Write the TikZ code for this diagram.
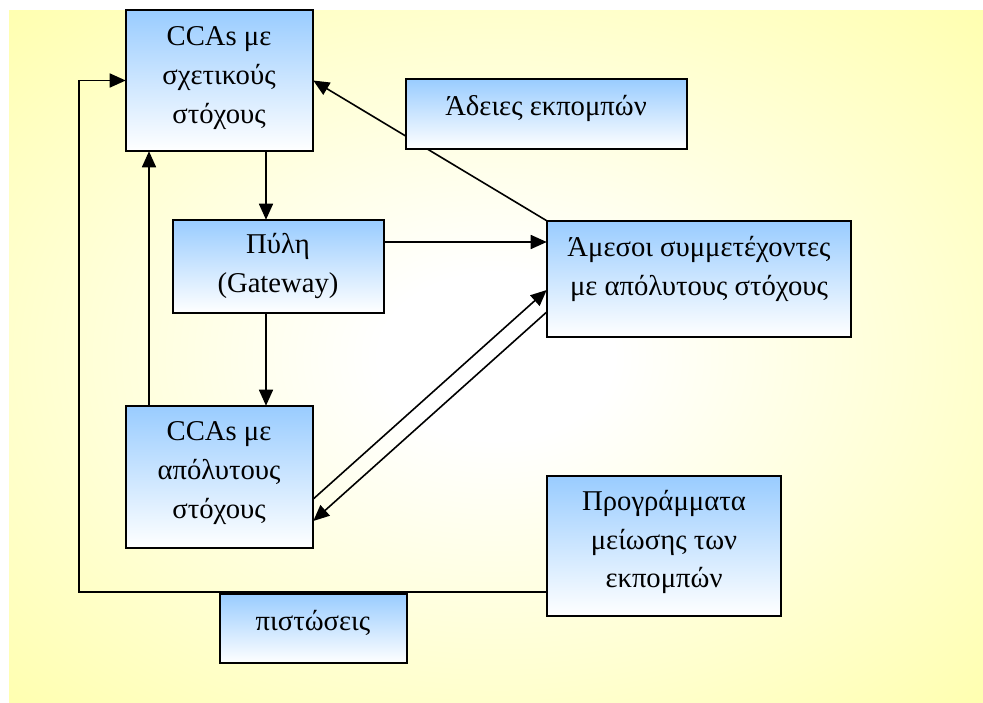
\documentclass[tikz,border=0pt]{standalone}
\usepackage{fontspec}
\setmainfont{Liberation Serif}
\newfontfamily\grserif{Liberation Serif}
\usetikzlibrary{arrows.meta,fit}
\definecolor{boxblue}{RGB}{153,204,255}
\definecolor{bgyellow}{RGB}{255,255,153}
\pgfdeclareradialshading{bgshade}{\pgfpoint{0bp}{0bp}}{color(0bp)=(white); color(6bp)=(white); color(44bp)=(bgyellow); color(80bp)=(bgyellow)}
\tikzset{
  box/.style={draw=black, line width=1.3pt, top color=boxblue, bottom color=white, inner sep=0pt},
  txt/.style={align=center, font=\grserif\fontsize{21.5}{29}\selectfont, inner sep=0pt},
  arr/.style={line width=1.2pt, -{Triangle[length=12pt,width=10.5pt]}},
  ln/.style={line width=1.2pt}
}
\begin{document}
\begin{tikzpicture}[x=0.75pt,y=-0.75pt]
\useasboundingbox (0,0) rectangle (983,703);
\fill[white] (0,0) rectangle (983,703);
\shade[shading=bgshade] (9,10) rectangle (983,703);
% coordinates
\coordinate (lc) at (79,592);
\coordinate (upx) at (149,0);
\coordinate (dnx) at (266,0);
\coordinate (gy) at (0,242);
\coordinate (d1a) at (0,499);
\coordinate (d1b) at (0,290);
\coordinate (d2a) at (0,312);
\coordinate (d2b) at (0,521);
% box frames (positions only, drawn later)
\path (126,10) coordinate (b1a) (313,151) coordinate (b1b);
\path (173,220) coordinate (gwa) (384,313) coordinate (gwb);
\path (126,406) coordinate (caa) (313,548) coordinate (cab);
\path (406,79) coordinate (ada) (687,149) coordinate (adb);
\path (547,221) coordinate (ama) (851,337) coordinate (amb);
\path (547,476) coordinate (pra) (781,616) coordinate (prb);
\path (220,594) coordinate (pia) (407,663) coordinate (pib);
\node[fit=(b1a)(b1b), inner sep=0pt] (box1) {};
\node[fit=(gwa)(gwb), inner sep=0pt] (gw) {};
\node[fit=(caa)(cab), inner sep=0pt] (cca) {};
\node[fit=(ada)(adb), inner sep=0pt] (ade) {};
\node[fit=(ama)(amb), inner sep=0pt] (ame) {};
\node[fit=(pra)(prb), inner sep=0pt] (pro) {};
\node[fit=(pia)(pib), inner sep=0pt] (pis) {};
% connectors
\draw[arr] (ame.north west) -- (box1.east);
\draw[arr] (pro.west |- lc) -- (lc) |- (box1.west);
\draw[arr] (cca.north -| upx) -- (box1.south -| upx);
\draw[arr] (box1.south -| dnx) -- (gw.north -| dnx);
\draw[arr] (gw.south -| dnx) -- (cca.north -| dnx);
\draw[arr] (gw.east |- gy) -- (ame.west |- gy);
\draw[arr] (cca.east |- d1a) -- (ame.west |- d1b);
\draw[arr] (ame.west |- d2a) -- (cca.east |- d2b);
% boxes
\node[box, fit=(b1a)(b1b)] (box1f) {};
\node[box, fit=(gwa)(gwb)] (gwf) {};
\node[box, fit=(caa)(cab)] (ccaf) {};
\node[box, fit=(ada)(adb)] (adef) {};
\node[box, fit=(ama)(amb)] (amef) {};
\node[box, fit=(pra)(prb)] (prof) {};
\node[box, fit=(pia)(pib)] (pisf) {};
% texts
\node[txt] (t1) at (219,78) {CCAs με\\σχετικούς\\στόχους};
\node[txt] (t2) at (278,266) {Πύλη\\(Gateway)};
\node[txt] (t3) at (219,473) {CCAs με\\απόλυτους\\στόχους};
\node[txt] (t4) at (546,108) {Άδειες εκπομπών};
\node[txt] (t5) at (699,269) {Άμεσοι συμμετέχοντες\\με απόλυτους στόχους};
\node[txt] (t6) at (664,542) {Προγράμματα\\μείωσης των\\εκπομπών};
\node[txt] (t7) at (313,623) {πιστώσεις};
\end{tikzpicture}
\end{document}
